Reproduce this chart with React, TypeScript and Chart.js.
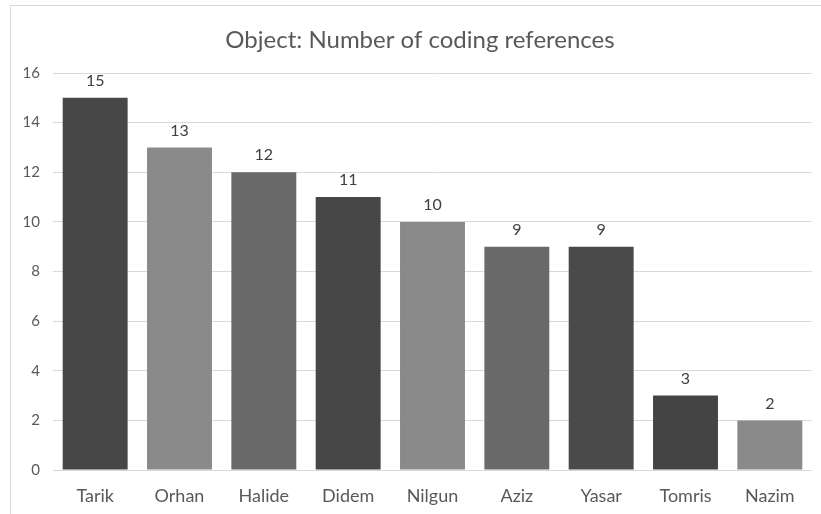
import React, { useEffect, useRef } from "react";
import { Chart, registerables } from "chart.js";

Chart.register(...registerables);

const chartTitle = "Object: Number of coding references";
const names = ["Tarik", "Orhan", "Halide", "Didem", "Nilgun", "Aziz", "Yasar", "Tomris", "Nazim"];
const references = [15, 13, 12, 11, 10, 9, 9, 3, 2];
const barColors = ["#474747", "#8a8a8a", "#6a6a6a", "#474747", "#8a8a8a", "#6a6a6a", "#4a4a4a", "#444444", "#8a8a8a"];
const yTicks = [0, 2, 4, 6, 8, 10, 12, 14, 16];

const FONT = "Lato, 'Open Sans', sans-serif";

// Title centred over the framed area, plus each bar's value above its top
const annotations = {
  id: "annotations",
  afterDatasetsDraw(chart: any) {
    const { ctx } = chart;
    const meta = chart.getDatasetMeta(0);
    ctx.save();
    ctx.textAlign = "center";
    ctx.textBaseline = "middle";

    ctx.font = `24px ${FONT}`;
    ctx.fillStyle = "#595959";
    ctx.fillText(chartTitle, 420, 40);

    ctx.font = `16px ${FONT}`;
    ctx.fillStyle = "#404040";
    meta.data.forEach((bar: any, i: number) => {
      ctx.fillText(String(references[i]), bar.x, bar.y - 17);
    });
    ctx.restore();
  },
};

export default function App() {
  const canvasRef = useRef<HTMLCanvasElement | null>(null);

  useEffect(() => {
    if (!canvasRef.current) return;
    const chart = new Chart(canvasRef.current, {
      type: "bar",
      data: {
        labels: names,
        datasets: [
          {
            data: references,
            backgroundColor: barColors,
            borderWidth: 0,
            barPercentage: 0.77,
            categoryPercentage: 1,
          },
        ],
      },
      options: {
        animation: false,
        responsive: false,
        maintainAspectRatio: false,
        layout: { padding: { left: 0, right: 9, top: 73, bottom: 0 } },
        plugins: {
          legend: { display: false },
          tooltip: { enabled: false },
          title: { display: false },
        },
        scales: {
          x: {
            grid: { display: false },
            border: { display: false },
            ticks: {
              color: "#595959",
              font: { family: FONT, size: 18 },
              padding: 7,
              maxRotation: 0,
            },
            afterFit(scale: any) {
              scale.height = 44;
            },
          },
          y: {
            min: 0,
            max: 16,
            afterBuildTicks(scale: any) {
              scale.ticks = yTicks.map((v) => ({ value: v }));
            },
            grid: { color: "#d9d9d9", drawTicks: false, lineWidth: 1 },
            border: { display: false },
            ticks: {
              color: "#595959",
              font: { family: FONT, size: 15 },
              padding: 13,
            },
            afterFit(scale: any) {
              scale.width = 53;
            },
          },
        },
      },
      plugins: [annotations],
    });
    return () => chart.destroy();
  }, []);

  return (
    <div style={{ position: "fixed", left: 0, top: 0, width: 821, height: 514, background: "#fff" }}>
      <div
        style={{
          position: "absolute",
          left: 10,
          top: 5,
          right: 0,
          bottom: 0,
          borderLeft: "1px solid #d9d9d9",
          borderTop: "1px solid #d9d9d9",
        }}
      />
      <canvas
        ref={canvasRef}
        width={821}
        height={514}
        style={{ position: "absolute", left: 0, top: 0, width: 821, height: 514 }}
      />
    </div>
  );
}
